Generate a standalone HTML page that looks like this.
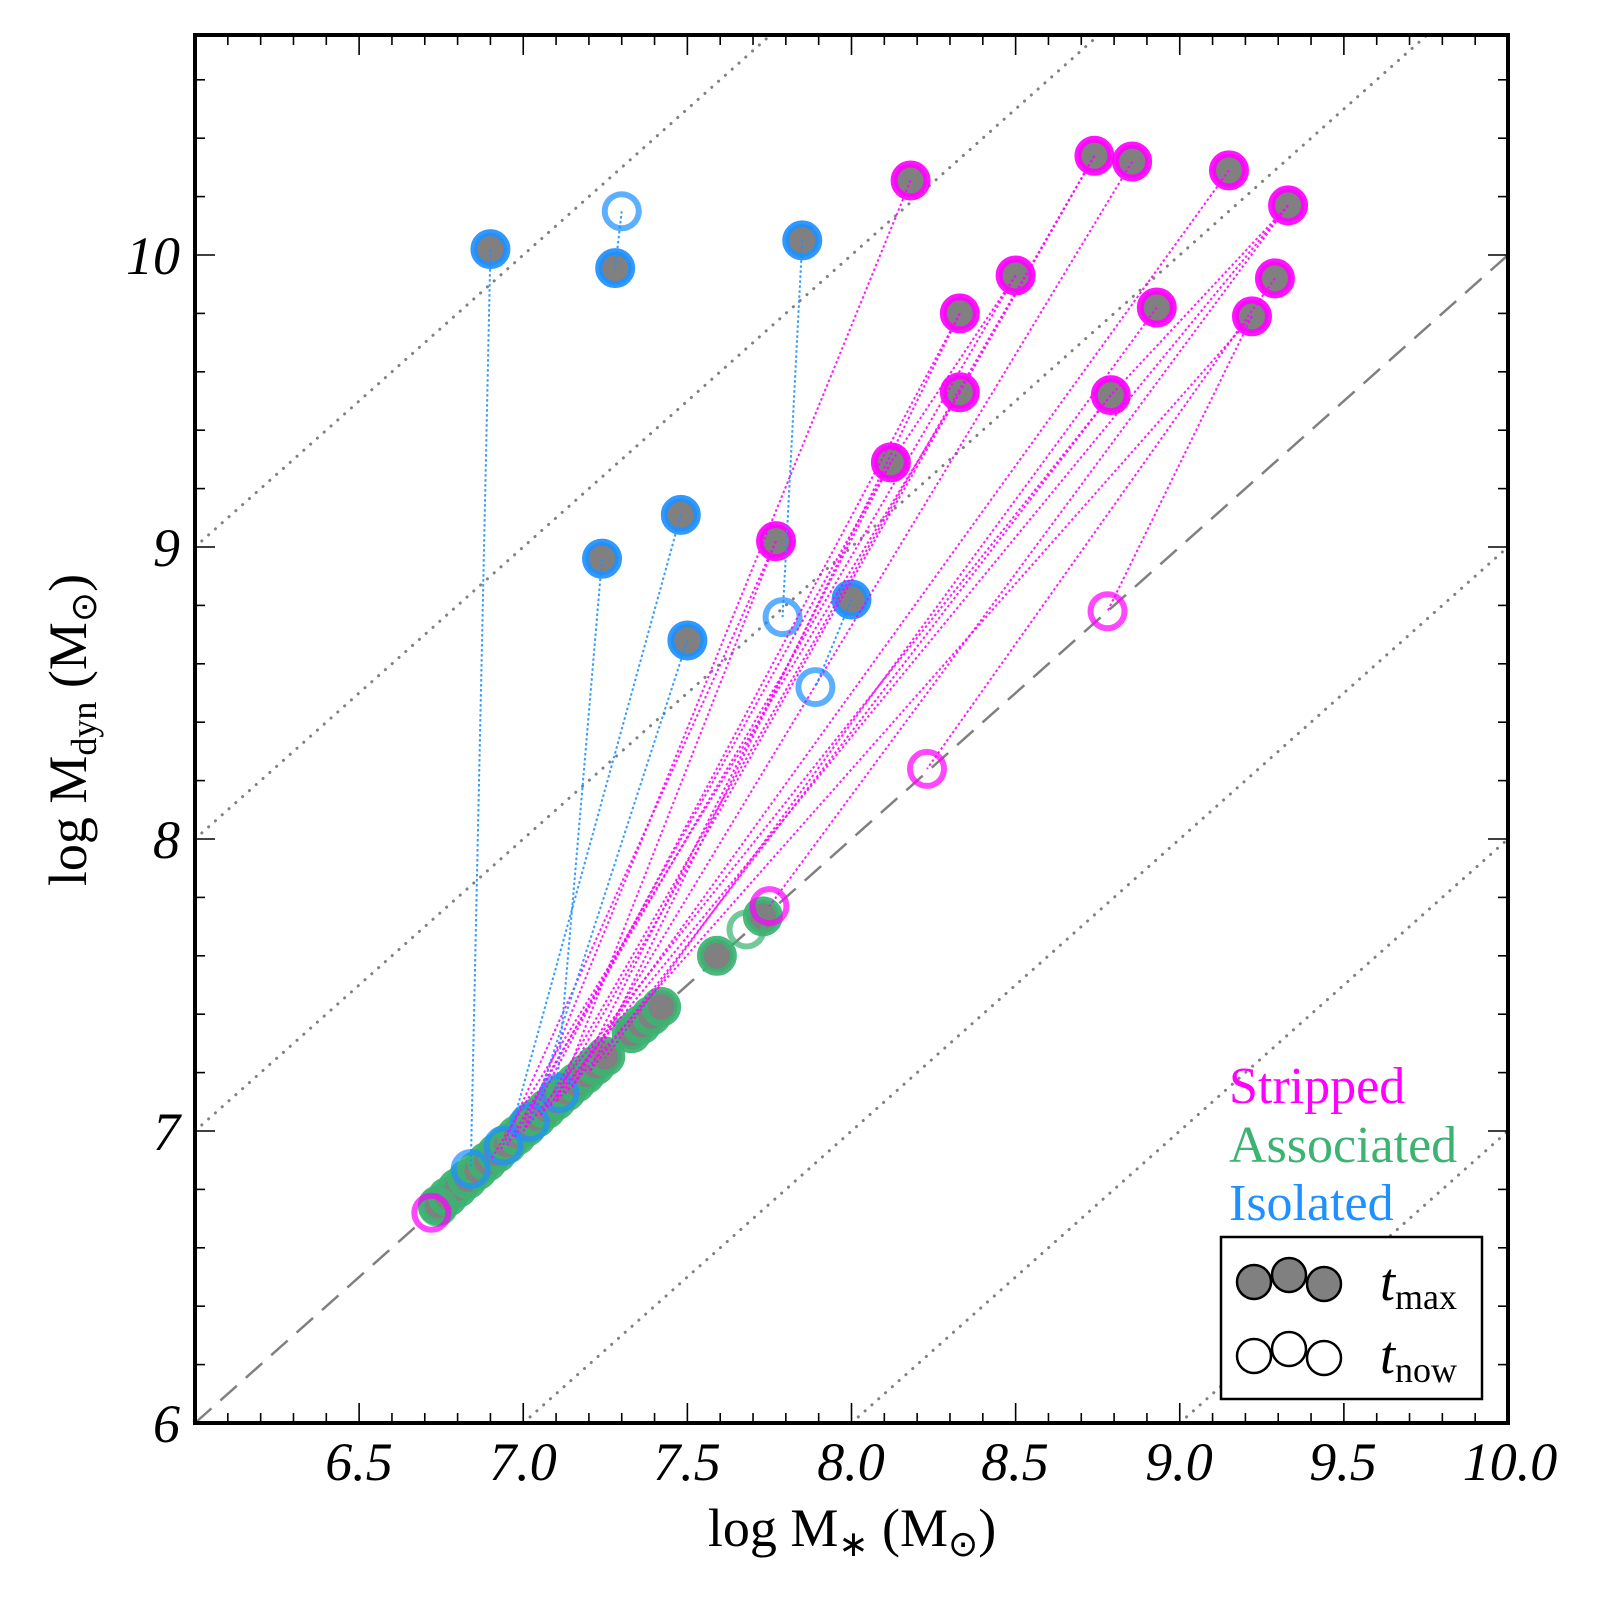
<!DOCTYPE html>
<html><head><meta charset="utf-8"><style>
html,body{margin:0;padding:0;background:#fff;}
svg{display:block;}
text{font-family:"Liberation Serif",serif;}
</style></head><body>
<svg id="s" width="1600" height="1600" viewBox="0 0 1600 1600" xmlns="http://www.w3.org/2000/svg">
<g id="ref"></g>
<g id="mk"></g>
<g id="ln"></g>
<g id="ax"></g>
<g font-style="italic" font-size="54" fill="#000" text-anchor="middle">
<text x="359" y="1480">6.5</text>
<text x="523" y="1480">7.0</text>
<text x="687" y="1480">7.5</text>
<text x="851" y="1480">8.0</text>
<text x="1015" y="1480">8.5</text>
<text x="1179" y="1480">9.0</text>
<text x="1343" y="1480">9.5</text>
<text x="1510" y="1480">10.0</text>
</g>
<g font-style="italic" font-size="54" fill="#000" text-anchor="end">
<text x="180" y="1442">6</text>
<text x="180" y="1150">7</text>
<text x="180" y="858">8</text>
<text x="180" y="566">9</text>
<text x="180" y="274">10</text>
</g>
<text x="852" y="1546" font-size="54" text-anchor="middle">log M<tspan font-size="36" dy="10">∗</tspan><tspan dy="-10"> (M</tspan><tspan font-size="36" dy="10">⊙</tspan><tspan dy="-10">)</tspan></text>
<text transform="translate(86,730) rotate(-90)" font-size="54" text-anchor="middle">log M<tspan font-size="36" dy="10">dyn</tspan><tspan dy="-10"> (M</tspan><tspan font-size="36" dy="10">⊙</tspan><tspan dy="-10">)</tspan></text>
<text x="1229" y="1103" font-size="52" fill="#ff00ff">Stripped</text>
<text x="1229" y="1162" font-size="52" fill="#3cb371">Associated</text>
<text x="1229" y="1220" font-size="52" fill="#1e90ff">Isolated</text>
<rect x="1221" y="1237" width="261" height="162" fill="#fff" stroke="#000" stroke-width="2.5"/>
<g stroke="#000" stroke-width="2.5">
<circle cx="1254" cy="1282" r="17" fill="#808080"/><circle cx="1289" cy="1275" r="17" fill="#808080"/><circle cx="1324" cy="1284" r="17" fill="#808080"/>
<circle cx="1254" cy="1356" r="17" fill="#fff"/><circle cx="1289" cy="1349" r="17" fill="#fff"/><circle cx="1324" cy="1358" r="17" fill="#fff"/>
</g>
<text x="1380" y="1300" font-size="54" font-style="italic">t<tspan font-style="normal" font-size="36" dy="9">max</tspan></text>
<text x="1380" y="1373" font-size="54" font-style="italic">t<tspan font-style="normal" font-size="36" dy="9">now</tspan></text>
</svg>
<script>
var NS="http://www.w3.org/2000/svg";
function px(X){return 195+(X-6)*328.25;}
function py(Y){return 1423-(Y-6)*292;}
function el(p,t,a){var e=document.createElementNS(NS,t);for(var k in a)e.setAttribute(k,a[k]);document.getElementById(p).appendChild(e);return e;}
var x0=6,x1=10,y0=6,y1=10.755;
[-3,-2,-1,0,1,2,3].forEach(function(k){
 var xa=Math.max(x0,y0-k),xb=Math.min(x1,y1-k);
 if(xb<=xa)return;
 var a={x1:px(xa),y1:py(xa+k),x2:px(xb),y2:py(xb+k),stroke:"#808080"};
 if(k==0){a["stroke-width"]=2.5;a["stroke-dasharray"]="22,12";}
 else{a["stroke-width"]=3;a["stroke-dasharray"]="0.1,9";a["stroke-linecap"]="round";}
 el("ref","line",a);
});
var M="#ff00ff",G="#3cb371",B="#1e90ff";
function filled(X,Y,c){el("mk","circle",{cx:px(X),cy:py(Y),r:16.5,fill:"#808080",stroke:c,"stroke-width":7,"stroke-opacity":0.92});}
function open(X,Y,c){el("mk","circle",{cx:px(X),cy:py(Y),r:17,fill:"none",stroke:c,"stroke-width":6,"stroke-opacity":0.72});}
function line(a,b,c){el("ln","line",{x1:px(a[0]),y1:py(a[1]),x2:px(b[0]),y2:py(b[1]),stroke:c,"stroke-width":2,"stroke-dasharray":"2.5,2.5","stroke-opacity":0.9});}
for(var X=6.74;X<=7.26;X+=0.03){filled(X,X+0.005,G);}
[7.33,7.36,7.39,7.42,7.73].forEach(function(X){filled(X,X+0.005,G);});
open(6.74,6.74,G);open(7.68,7.69,G);
filled(7.59,7.60,G);
open(6.72,6.72,M);open(7.75,7.77,M);open(8.23,8.24,M);open(8.78,8.78,M);
[[6.84,6.87],[6.94,6.95],[7.02,7.03],[7.11,7.13]].forEach(function(p){open(p[0],p[1],B);});
var mag=[[[8.18,10.255],[7.0,7.0]],[[8.74,10.34],[7.05,7.05]],[[8.855,10.32],[7.15,7.15]],[[9.15,10.29],[7.1,7.1]],[[9.33,10.17],[7.75,7.77]],[[8.50,9.93],[6.95,6.95]],[[9.29,9.92],[8.23,8.24]],[[8.33,9.80],[7.0,7.0]],[[8.93,9.82],[7.25,7.25]],[[9.22,9.79],[8.78,8.78]],[[8.33,9.53],[6.9,6.9]],[[8.79,9.52],[7.2,7.2]],[[8.12,9.29],[6.97,6.97]],[[7.77,9.02],[6.93,6.93]]];
mag.forEach(function(p){filled(p[0][0],p[0][1],M);line(p[0],p[1],M);});
var extra=[[[8.74,10.34],[8.33,9.53]],[[8.50,9.93],[8.12,9.29]],[[9.33,10.17],[8.79,9.52]],[[9.33,10.17],[7.05,7.05]],[[9.22,9.79],[7.12,7.12]],[[8.79,9.52],[7.0,7.0]],[[8.33,9.53],[7.08,7.08]],[[8.12,9.29],[7.15,7.15]],[[8.33,9.80],[7.2,7.2]],[[7.77,9.02],[7.1,7.1]]];
extra.forEach(function(p){line(p[0],p[1],M);});
var blu=[[[6.90,10.02],[6.84,6.87]],[[7.28,9.955],[7.30,10.15]],[[7.85,10.05],[7.79,8.76]],[[7.24,8.96],[7.1,7.12]],[[7.48,9.11],[6.95,6.95]],[[7.50,8.68],[7.02,7.02]],[[8.00,8.82],[7.89,8.52]]];
blu.forEach(function(p){filled(p[0][0],p[0][1],B);line(p[0],p[1],B);});
open(7.30,10.15,B);open(7.79,8.76,B);open(7.89,8.52,B);
el("ax","rect",{x:195,y:35,width:1313,height:1388,fill:"none",stroke:"#000","stroke-width":4});
for(var i=1;i<40;i++){var X=6+i*0.1,maj=(i%5==0),L=maj?20:10,x=px(X);
 el("ax","line",{x1:x,y1:1423,x2:x,y2:1423-L,stroke:"#000","stroke-width":1.6});
 el("ax","line",{x1:x,y1:35,x2:x,y2:35+L,stroke:"#000","stroke-width":1.6});}
for(var j=1;j*0.2<4.755;j++){var Y=6+j*0.2,maj=(j%5==0),L=maj?20:10,y=py(Y);
 el("ax","line",{x1:195,y1:y,x2:195+L,y2:y,stroke:"#000","stroke-width":1.6});
 el("ax","line",{x1:1508,y1:y,x2:1508-L,y2:y,stroke:"#000","stroke-width":1.6});}
</script>
</body></html>
